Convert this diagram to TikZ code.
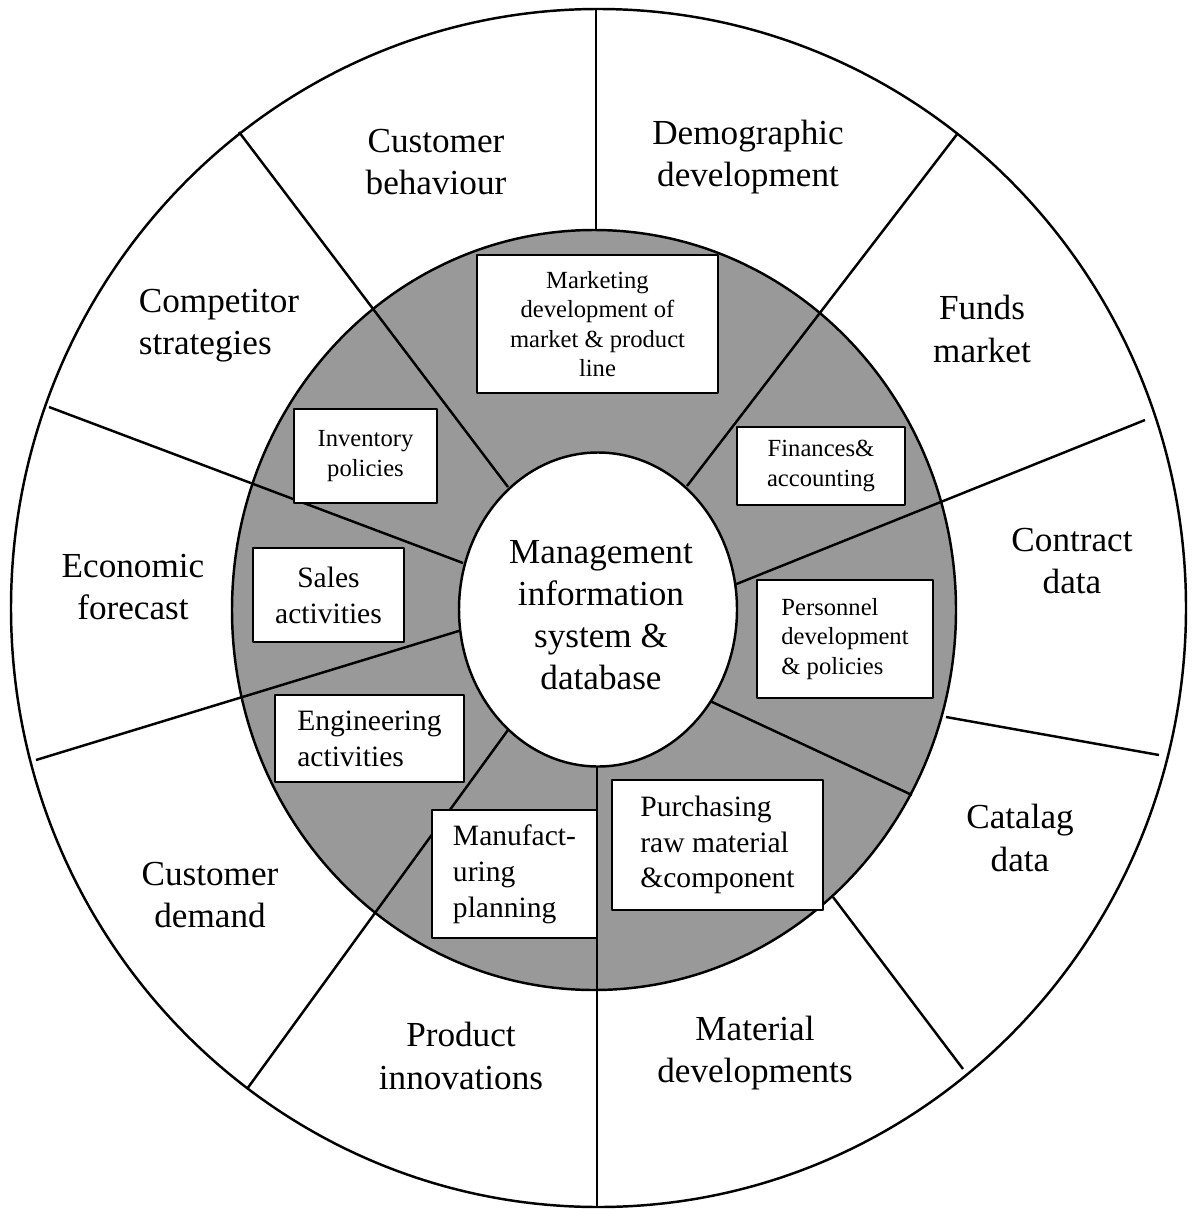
\documentclass[tikz,border=0pt]{standalone}
\usepackage{fontspec}
\setmainfont{Liberation Serif}
\begin{document}
\begin{tikzpicture}[x=0.01cm, y=-0.01cm, line join=round,
  ring/.style={draw=black, line width=0.7pt},
  spoke/.style={draw=black, line width=0.7pt},
  lbl/.style={align=center, inner sep=0pt, font=\fontsize{10}{12}\selectfont},
  sbox/.style={draw=black, fill=white, line width=0.5pt, inner sep=0pt, align=center, font=\fontsize{7}{8.3}\selectfont},
  bbox/.style={sbox, font=\fontsize{8.4}{10.2}\selectfont}]
  \useasboundingbox (0,0) rectangle (1192,1209);
  % rings
  \draw[ring, fill=white] (598.5,608) ellipse [x radius=587.5, y radius=599];
  \draw[ring, fill=black!40] (594,610) ellipse [x radius=362, y radius=380];
  % spokes
  \draw[spoke] (596,9) -- (596,231);
  \draw[spoke] (946,717) -- (1159,755);
  \draw[spoke] (833,897) -- (963,1069);
  \draw[spoke] (710,701) -- (912,795);
  \draw[spoke] (687,486) -- (958,133);
  \draw[spoke] (734,585) -- (1145,420);
  \draw[spoke] (597,760) -- (597,1207);
  \draw[spoke] (508,730) -- (247,1089);
  \draw[spoke] (462,630) -- (36,760);
  \draw[spoke] (463,563) -- (49,407);
  \draw[spoke] (508,487) -- (239,132);
  \draw[ring, fill=white] (598,609.5) ellipse [x radius=139, y radius=157];
  \node[lbl] (mis) at (601,615) {Management\\information\\system \&\\database};
  % outer labels
  \node[lbl] (cbeh) at (436,162) {Customer\\behaviour};
  \node[lbl] (demo) at (748,157) {Demographic\\development};
  \node[lbl] (funds) at (982,329) {Funds\\market};
  \node[lbl] (contr) at (1072,561) {Contract\\data};
  \node[lbl] (catal) at (1020,838) {Catalag\\data};
  \node[lbl] (mater) at (755,1053) {Material\\developments};
  \node[lbl] (prodi) at (461,1056) {Product\\innovations};
  \node[lbl] (cdem) at (210,895) {Customer\\demand};
  \node[lbl] (econ) at (133,587) {Economic\\forecast};
  \node[lbl, align=left] (comp) at (219,326) {Competitor\\strategies};
  % inner boxes
  \node[sbox, minimum width=2.41cm, minimum height=1.38cm] (mkt) at (597.5,324) {Marketing\\development of\\market \& product\\line};
  \node[sbox, minimum width=1.68cm, minimum height=0.78cm] (fin) at (821,466) {Finances\&\\accounting};
  \node[sbox, align=left, minimum width=1.76cm, minimum height=1.18cm] (pers) at (845,639) {Personnel\\development\\\& policies};
  \node[bbox, align=left, minimum width=2.11cm, minimum height=1.30cm] (purch) at (717.5,845) {Purchasing\\raw material\\\&component};
  \node[bbox, align=left, minimum width=1.65cm, minimum height=1.28cm] (manuf) at (514.5,874) {Manufact-\\uring\\planning};
  \node[bbox, align=left, minimum width=1.89cm, minimum height=0.87cm] (eng) at (369.5,738.5) {Engineering\\activities};
  \node[bbox, minimum width=1.51cm, minimum height=0.94cm] (sales) at (328.5,595) {Sales\\activities};
  \node[sbox, minimum width=1.43cm, minimum height=0.94cm] (inv) at (365.5,456) {Inventory\\policies};
\end{tikzpicture}
\end{document}
